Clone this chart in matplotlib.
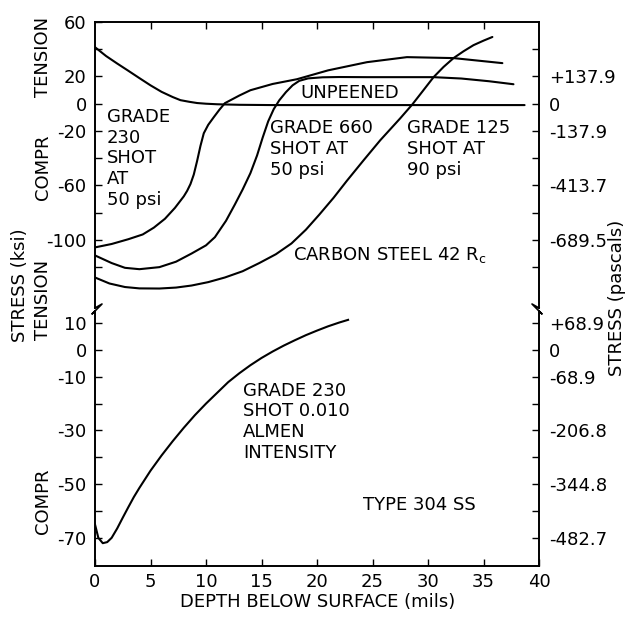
import matplotlib
matplotlib.use("Agg")
import matplotlib.pyplot as plt
from matplotlib.lines import Line2D

plt.rcParams['font.family'] = ['DejaVu Sans']

# ---------------- data (depth in mils, stress in ksi) ----------------
unpeened_x = [0, 1, 2, 3, 4, 5, 6, 7, 7.7, 8.5, 9.2, 10, 11, 13, 16, 20, 25, 30, 35, 38.7]
unpeened_y = [41.5, 35, 29.5, 24.2, 18.8, 13.5, 8.7, 4.9, 2.6, 1.4, 0.5, 0, -0.4, -0.8, -1, -1, -1, -1, -1, -1]

g230_x = [0, 1.5, 3, 4.3, 5.3, 6.3, 7.2, 8, 8.3, 8.6, 8.9, 9.2, 9.5, 9.8, 10.2, 10.7, 11.2, 11.7, 13, 14, 16, 18.2, 21, 24.5, 28.1, 32.3, 36.7]
g230_y = [-105.5, -103, -99.5, -96, -91, -84.5, -76.5, -68, -64, -59, -52, -42, -31, -21.7, -15.5, -9.9, -4.5, 0.4, 6, 9.9, 14.5, 18, 24.5, 30.5, 34.2, 33.5, 29.8]

g660_x = [0, 1.5, 2.7, 4, 5.8, 7.3, 8.7, 10, 10.8, 11.8, 12.6, 13.3, 14, 14.6, 15.1, 15.6, 16.1, 16.6, 17.2, 17.8, 18.4, 19.2, 20.5, 22, 24.5, 27.5, 30.5, 33, 35.5, 37.7]
g660_y = [-111.4, -117, -120.5, -121.5, -120, -116, -110, -104, -98, -86, -74, -63, -51, -38, -25, -13, -4, 2.5, 8.5, 13.5, 16.8, 18.6, 19.4, 19.6, 19.5, 19.5, 19.5, 18.5, 16.5, 14.3]

g125_x = [0, 1.3, 2.7, 4, 5.8, 7.3, 8.7, 10.2, 11.7, 13.3, 14.8, 16.3, 17.7, 19, 20.2, 21.5, 22.7, 24.2, 25.7, 27.5, 28.6, 29.5, 30.5, 31.4, 32.3, 33.2, 34.1, 35, 35.8]
g125_y = [-127.6, -132, -134.6, -135.6, -135.7, -135, -133.5, -131, -127.6, -123, -117, -110.5, -102.6, -92.5, -81.5, -69, -56.5, -41.5, -26.8, -10.7, -0.4, 9, 19.5, 27, 33.5, 38.5, 43, 46.3, 49]

ss304_x = [0, 0.3, 0.7, 1.1, 1.5, 2, 2.5, 3, 3.5, 4, 5, 6, 7, 8, 9, 10, 11, 12, 13, 14, 15, 16, 17, 18, 19, 20, 21, 22, 22.8]
ss304_y = [-65, -70, -72, -71.6, -70, -66.5, -62.5, -58.6, -54.8, -51.4, -45, -39.3, -34, -29, -24.3, -20, -16, -12, -8.7, -5.7, -3, -0.6, 1.6, 3.6, 5.5, 7.2, 8.8, 10.2, 11.2]

# tick labels
top_left_ticks = [60, 20, 0, -20, -60, -100]
top_left_labels = ['60', '20', '0', '-20', '-60', '-100']
top_minor = [40, -40, -80, -120]
top_right_ticks = [20, 0, -20, -60, -100]
top_right_labels = ['+137.9', '0', '-137.9', '-413.7', '-689.5']

bot_left_ticks = [10, 0, -10, -30, -50, -70]
bot_left_labels = ['10', '0', '-10', '-30', '-50', '-70']
bot_minor = [-20, -40, -60]
bot_right_labels = ['+68.9', '0', '-68.9', '-206.8', '-344.8', '-482.7']

x_ticks = [0, 5, 10, 15, 20, 25, 30, 35, 40]

# ---------------- figure ----------------
W, H = 627, 629
fig = plt.figure(figsize=(W / 100, H / 100), dpi=100)
FS = 13
LW = 1.5
col = 'black'

def fx(px):
    return px / W

def fy(py):
    return 1 - py / H

L, R = 95, 539
ax1 = fig.add_axes([fx(L), fy(308), fx(R - L), (308 - 22) / H])
ax2 = fig.add_axes([fx(L), fy(566), fx(R - L), (566 - 311) / H])

for ax in (ax1, ax2):
    ax.set_xlim(0, 40)
    for s in ax.spines.values():
        s.set_linewidth(1.2)

ax1.set_ylim(-150, 60)
ax2.set_ylim(-80.5, 14.5)

# curves
for xs, ys in [(unpeened_x, unpeened_y), (g230_x, g230_y), (g660_x, g660_y), (g125_x, g125_y)]:
    ax1.plot(xs, ys, color=col, lw=LW, solid_joinstyle='round', solid_capstyle='round')
ax2.plot(ss304_x, ss304_y, color=col, lw=LW, solid_joinstyle='round')

# top panel axes styling
ax1.spines['bottom'].set_visible(False)
ax1.set_xticks(x_ticks[1:-1])
ax1.tick_params(axis='x', bottom=False, top=True, labelbottom=False, labeltop=False,
                direction='in', length=5, width=1)
ax1.set_yticks(top_left_ticks)
ax1.set_yticklabels(top_left_labels)
ax1.set_yticks(top_minor, minor=True)
ax1.tick_params(axis='y', which='both', direction='in', length=5, width=1, labelsize=FS, pad=6)

ax1r = ax1.twinx()
ax1r.set_ylim(ax1.get_ylim())
ax1r.spines['bottom'].set_visible(False)
for s in ax1r.spines.values():
    s.set_linewidth(1.2)
ax1r.set_yticks(top_right_ticks)
ax1r.set_yticklabels(top_right_labels)
ax1r.set_yticks(top_minor, minor=True)
ax1r.tick_params(axis='y', which='both', direction='in', length=5, width=1, labelsize=FS, pad=7)

# bottom panel axes styling
ax2.spines['top'].set_visible(False)
ax2.set_xticks(x_ticks)
ax2.set_xticklabels([str(v) for v in x_ticks])
ax2.tick_params(axis='x', direction='in', length=5, width=1, labelsize=FS, pad=5, top=False)
ax2.set_yticks(bot_left_ticks)
ax2.set_yticklabels(bot_left_labels)
ax2.set_yticks(bot_minor, minor=True)
ax2.tick_params(axis='y', which='both', direction='in', length=5, width=1, labelsize=FS, pad=6)

ax2r = ax2.twinx()
ax2r.set_ylim(ax2.get_ylim())
ax2r.spines['top'].set_visible(False)
for s in ax2r.spines.values():
    s.set_linewidth(1.2)
ax2r.set_yticks(bot_left_ticks)
ax2r.set_yticklabels(bot_right_labels)
ax2r.set_yticks(bot_minor, minor=True)
ax2r.tick_params(axis='y', which='both', direction='in', length=5, width=1, labelsize=FS, pad=7)

# break zigzags
def zig(px_list, py_list):
    fig.add_artist(Line2D([fx(p) for p in px_list], [fy(p) for p in py_list],
                          color=col, lw=1.2, transform=fig.transFigure))

zig([L, L + 7, L - 3, L], [308, 304, 314, 311])
zig([R, R - 7, R + 3, R], [308, 304, 314, 311])

# in-plot annotations (va='baseline' aligns the last line's baseline)
def t1(px, py):
    return ((px - L) / 11.1, 60 - (py - 22) / 1.362)

def t2(px, py):
    return ((px - L) / 11.1, 14.5 - (py - 311) / 2.684)

ax1.text(*t1(107, 205), "GRADE\n230\nSHOT\nAT\n50 psi", fontsize=FS, va='baseline', ha='left')
ax1.text(*t1(300, 98), "UNPEENED", fontsize=FS, va='baseline', ha='left')
ax1.text(*t1(270, 175), "GRADE 660\nSHOT AT\n50 psi", fontsize=FS, va='baseline', ha='left')
ax1.text(*t1(407, 175), "GRADE 125\nSHOT AT\n90 psi", fontsize=FS, va='baseline', ha='left')
ax1.text(*t1(293, 260), r"CARBON STEEL 42 R$_\mathrm{c}$", fontsize=FS, va='baseline', ha='left')

ax2.text(*t2(243, 458), "GRADE 230\nSHOT 0.010\nALMEN\nINTENSITY", fontsize=FS, va='baseline', ha='left')
ax2.text(*t2(363, 510), "TYPE 304 SS", fontsize=FS, va='baseline', ha='left')

# axis titles
fig.text(fx(43), fy(57), "TENSION", rotation=90, fontsize=FS, ha='center', va='center')
fig.text(fx(43), fy(167), "COMPR", rotation=90, fontsize=FS, ha='center', va='center')
fig.text(fx(20), fy(285), "STRESS (ksi)", rotation=90, fontsize=FS, ha='center', va='center')
fig.text(fx(43), fy(300), "TENSION", rotation=90, fontsize=FS, ha='center', va='center')
fig.text(fx(43), fy(501), "COMPR", rotation=90, fontsize=FS, ha='center', va='center')
fig.text(fx(617), fy(298), "STRESS (pascals)", rotation=90, fontsize=FS, ha='center', va='center')
fig.text(fx(318), fy(602), "DEPTH BELOW SURFACE (mils)", fontsize=FS, ha='center', va='center')

fig.savefig("out.png", dpi=100, facecolor='white')
